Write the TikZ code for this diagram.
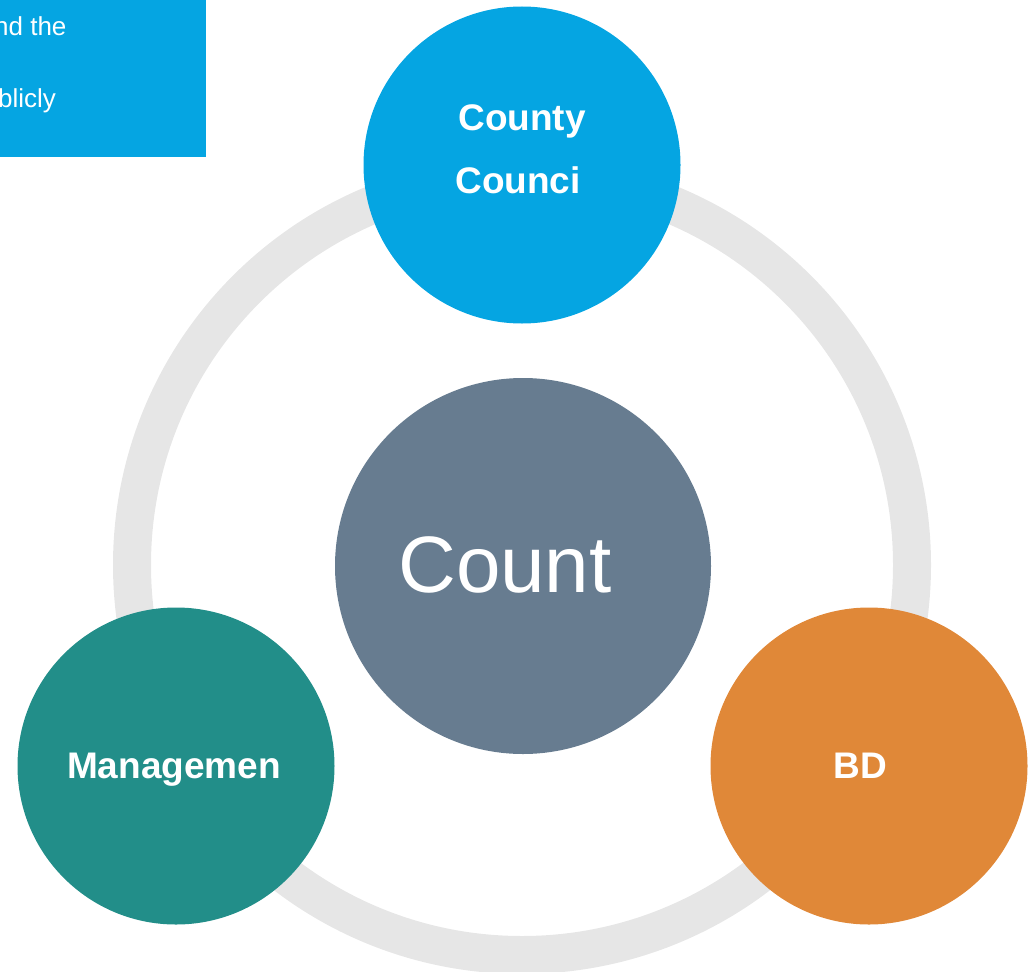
\documentclass[tikz,border=0pt]{standalone}
\usepackage{fontspec}
\setmainfont{Liberation Sans}
\definecolor{councilblue}{HTML}{05A5E2}
\definecolor{countgrey}{HTML}{677C90}
\definecolor{manageteal}{HTML}{228E89}
\definecolor{bdorange}{HTML}{E08838}
\definecolor{ringgrey}{HTML}{E6E6E6}
\begin{document}
\begin{tikzpicture}[
        x = 1pt, y = -1pt,
        disc/.style = {circle, draw = none, inner sep = 0pt, minimum size = 317pt},
        tag/.style = {text = white, inner sep = 0pt, anchor = base, font = \fontsize{37}{44}\selectfont\bfseries},
        note/.style = {text = white, inner sep = 0pt, anchor = base west, font = \fontsize{26}{31}\selectfont}
    ]
        \useasboundingbox (0,0) rectangle (1032,971);
        % note box, cut at the page edge
        \fill[councilblue] (0,0) rectangle (206,157);
        \node[note] (line1) at (-6,36) {nd the};
        \node[note] (line2) at (-2,108) {blicly};
        % ring behind the discs
        \draw[ringgrey, line width = 38pt] (522,565) circle (390);
        % discs
        \node[disc, fill = councilblue] (council) at (522,165) {};
        \node[disc, fill = countgrey, minimum size = 376pt] (count) at (523,566) {};
        \node[disc, fill = manageteal] (manage) at (176,766) {};
        \node[disc, fill = bdorange] (bd) at (869,766) {};
        % texts
        \node[tag] (countytext) at (522,130) {County};
        \node[tag] (councitext) at (518,193) {Counci};
        \node[tag] (managetext) at (174,778) {Managemen};
        \node[tag] (bdtext) at (860,778) {BD};
        \node[tag, font = \fontsize{80}{96}\selectfont] (counttext) at (505,592) {Count};
    \end{tikzpicture}
\end{document}
